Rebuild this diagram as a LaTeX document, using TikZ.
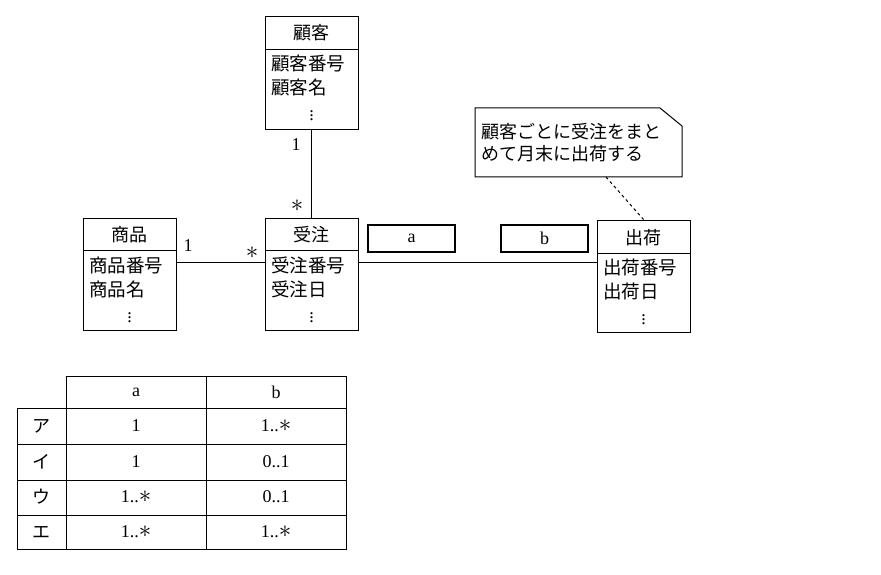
\documentclass[tikz,border=0pt]{standalone}
\usepackage{fontspec}
\setmainfont{Liberation Serif}
\newfontfamily\jp{Noto Sans CJK JP}
\newcommand{\mstar}{{\fontsize{28}{28}\selectfont$\ast$}}
\begin{document}
\begin{tikzpicture}[x=1pt,y=-1pt,
    cls/.style={draw, line width=1pt, minimum width=93pt, inner sep=0pt},
    lbl/.style={font=\fontsize{18}{22}\selectfont, inner sep=0pt},
    jlbl/.style={font=\jp\fontsize{18}{22}\selectfont, inner sep=0pt},
    attr/.style={font=\jp\fontsize{18.5}{24}\selectfont, align=left, anchor=north west, inner sep=0pt},
    mult/.style={draw, line width=2pt, minimum width=87pt, minimum height=27pt, font=\fontsize{18}{22}\selectfont}]
    \useasboundingbox (0,0) rectangle (881,575);

    % classes
    \node[cls, minimum height=113pt] at (311.5,73.5) (kokyaku) {};
    \node[cls, minimum height=112pt] at (311.5,274)  (juchu)   {};
    \node[cls, minimum height=112pt] at (129.5,274)  (shohin)  {};
    \node[cls, minimum height=112pt] at (643.5,276)  (shukka)  {};
    \draw[line width=1pt] (265,50) -- (358,50);
    \draw[line width=1pt] (265,250) -- (358,250);
    \draw[line width=1pt] (83,250) -- (176,250);
    \draw[line width=1pt] (597,253) -- (690,253);

    \node[jlbl] at (311.5,33)  (kokyakuT) {顧客};
    \node[jlbl] at (311.5,235) (juchuT)   {受注};
    \node[jlbl] at (129.5,235) (shohinT)  {商品};
    \node[jlbl] at (643.5,238) (shukkaT)  {出荷};

    \node[attr] at (271,55)  (kokyakuA) {顧客番号\\顧客名};
    \node[attr] at (271,257) (juchuA)   {受注番号\\受注日};
    \node[attr] at (89,257)  (shohinA)  {商品番号\\商品名};
    \node[attr] at (603,259) (shukkaA)  {出荷番号\\出荷日};
    \node[lbl] at (311.5,113) (kokyakuD) {$\vdots$};
    \node[lbl] at (311.5,315) (juchuD)   {$\vdots$};
    \node[lbl] at (129.5,315) (shohinD)  {$\vdots$};
    \node[lbl] at (643.5,317) (shukkaD)  {$\vdots$};

    % associations
    \draw[line width=1pt] (kokyaku.south) -- (juchu.north);
    \draw[line width=1pt] (shohin.east |- 0,262) -- (juchu.west |- 0,262);
    \draw[line width=1pt] (juchu.east |- 0,262) -- (shukka.west |- 0,262);
    \node[lbl] at (296,145) (m1) {1};
    \node[lbl] at (297,206) (m2) {\mstar};
    \node[lbl] at (188,246) (m3) {1};
    \node[lbl] at (252,253) (m4) {\mstar};
    \node[mult] at (411.5,238) (a) {a};
    \node[mult] at (544.5,238) (b) {b};

    % note
    \coordinate (nA) at (475,108);
    \coordinate (nB) at (660,108);
    \coordinate (nC) at (682,126);
    \coordinate (nD) at (682,177);
    \coordinate (nE) at (475,177);
    \draw[line width=1pt] (nA) -- (nB) -- (nC) -- (nD) -- (nE) -- cycle;
    \node[attr, font=\jp\fontsize{18}{22}\selectfont] at (481,123) (note) {顧客ごとに受注をまと\\めて月末に出荷する};
    \coordinate (noteEnd) at (606,177);
    \draw[line width=1pt, dashed] (noteEnd) -- (shukka.north);

    % table
    \draw[line width=1pt] (66,376) rectangle (346,549);
    \draw[line width=1pt] (17,408) rectangle (66,549);
    \draw[line width=1pt] (206,376) -- (206,549);
    \foreach \y in {408,444,480,515}
        \draw[line width=1pt] (17,\y) -- (346,\y);
    \node[lbl] at (136,392) (ha) {a};
    \node[lbl] at (276,392) (hb) {b};
    \foreach \k/\y/\va/\vb in {ア/426/1/1..\mstar, イ/462/1/0..1, ウ/497/1..\mstar/0..1, エ/532/1..\mstar/1..\mstar} {
        \node[jlbl] at (41.5,\y) {\k};
        \node[lbl] at (136,\y) {\va};
        \node[lbl] at (276,\y) {\vb};
    }
\end{tikzpicture}
\end{document}
